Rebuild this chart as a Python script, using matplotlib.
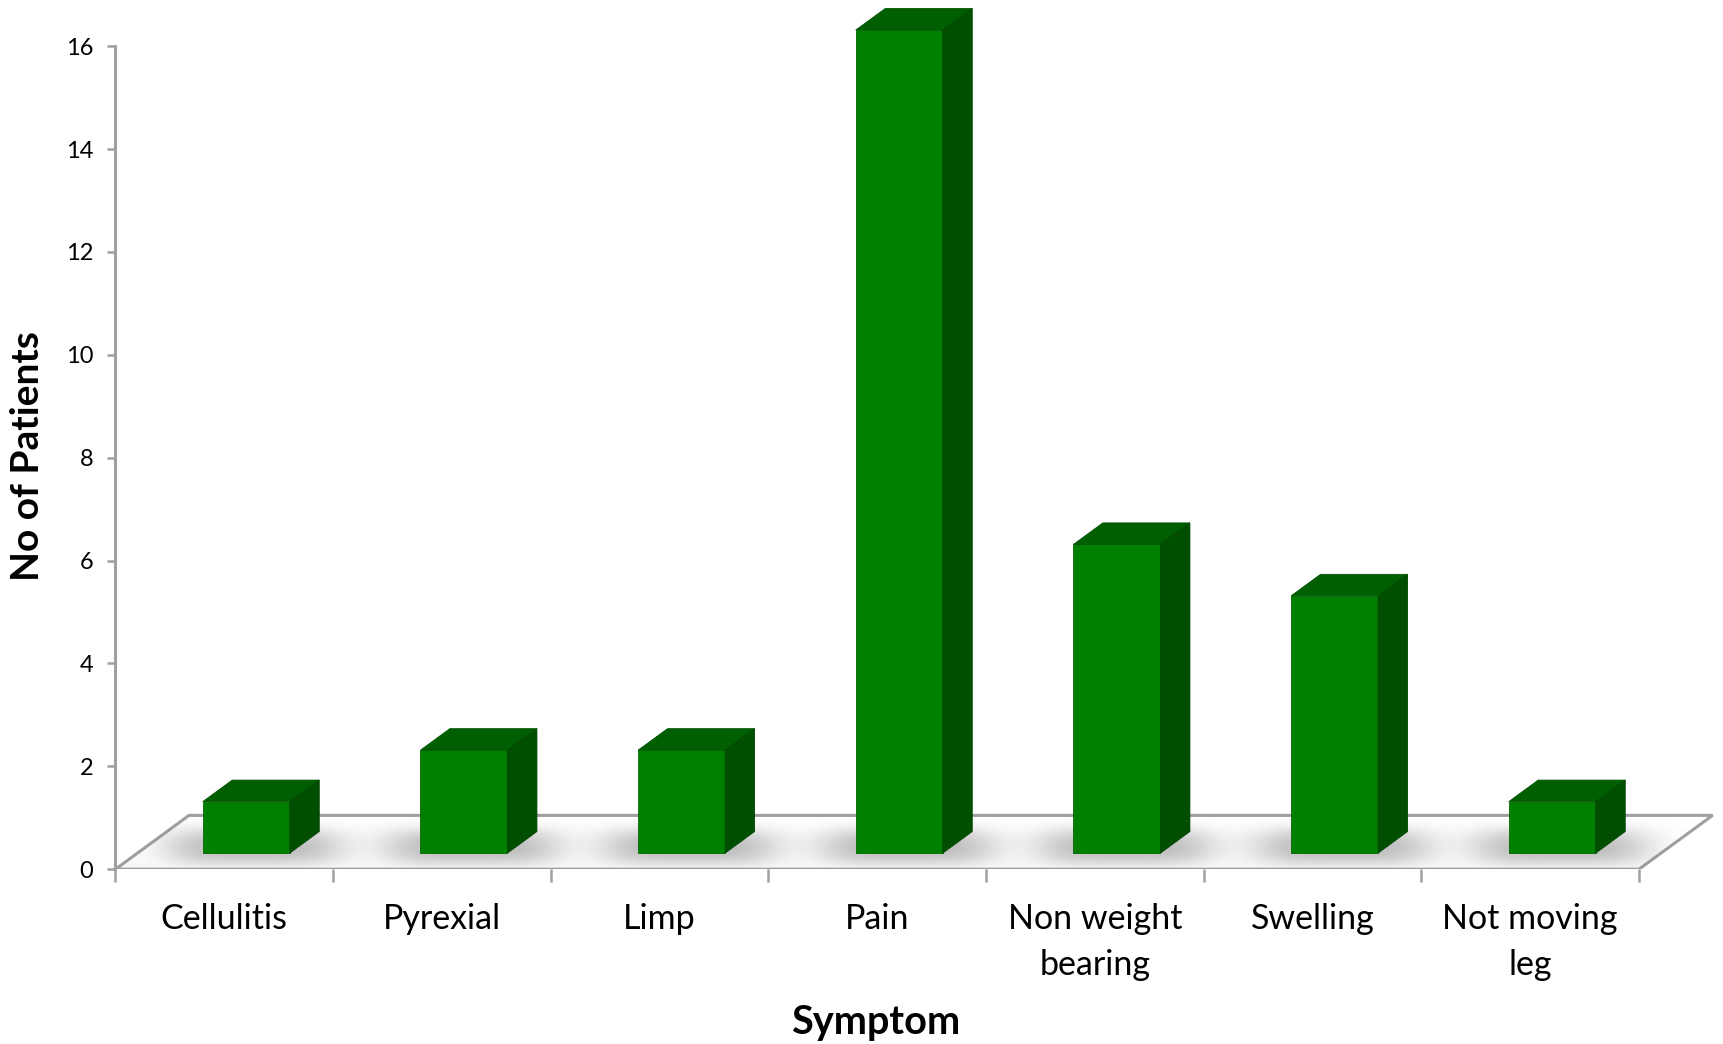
import numpy as np
import matplotlib
matplotlib.use('Agg')
import matplotlib.pyplot as plt
from matplotlib.patches import Polygon

# Datos del gráfico
symptoms = ['Cellulitis', 'Pyrexial', 'Limp', 'Pain', 'Non weight\nbearing', 'Swelling', 'Not moving\nleg']
patients = [1, 2, 2, 16, 6, 5, 1]
y_ticks = [0, 2, 4, 6, 8, 10, 12, 14, 16]

# Colores de las caras de las barras
front_color = '#007f00'
top_color = '#005f00'
side_color = '#004f00'
axis_gray = '#a0a0a0'

# Proyección oblicua: profundidad completa del suelo en unidades de datos
DX = 0.338
DY = 1.047
d0, d1 = 0.3, 0.7      # profundidad de las barras dentro de la categoría
w0, w1 = 0.3, 0.7      # anchura de la barra dentro de la categoría

plt.rcParams['font.family'] = ['Lato', 'DejaVu Sans']

fig = plt.figure(figsize=(17.23, 10.44), dpi=100)
ax = fig.add_axes([115.4 / 1723, 0.1674, 1602 / 1723, 0.8302])
ax.set_xlim(0, 7.36)
ax.set_ylim(0, 16.85)

n = len(symptoms)

# Suelo del gráfico
floor = Polygon([(0, 0), (n, 0), (n + DX, DY), (DX, DY)], closed=True,
                facecolor='white', edgecolor=axis_gray, lw=2.2, zorder=1,
                joinstyle='miter')
ax.add_patch(floor)

# Sombras difusas bajo las barras
nx, ny = 1600, 240
gx = np.linspace(0, n + DX, nx)
gy = np.linspace(0, DY, ny)
GX, GY = np.meshgrid(gx, gy)
mask = np.zeros((ny, nx))
for i in range(n):
    left = i + w0 + d0 * DX - 0.14
    right = i + w1 + d1 * DX + 0.08
    inside = (GX >= left) & (GX <= right) & (GY >= 0.12) & (GY <= d1 * DY)
    mask[inside] = 1.0


def blur(arr, sig_x, sig_y):
    kx = np.exp(-0.5 * (np.arange(-3 * sig_x, 3 * sig_x + 1) / sig_x) ** 2)
    ky = np.exp(-0.5 * (np.arange(-3 * sig_y, 3 * sig_y + 1) / sig_y) ** 2)
    kx /= kx.sum()
    ky /= ky.sum()
    out = np.array([np.convolve(r, kx, mode='same') for r in arr])
    out = np.array([np.convolve(c, ky, mode='same') for c in out.T]).T
    return out


shadow = blur(mask, 24, 34)
# degradado claro junto al borde delantero
shadow = np.maximum(shadow * 0.45, 0.09 * np.exp(-GY / 0.15))
rgba = np.zeros((ny, nx, 4))
rgba[..., :3] = 0.4
rgba[..., 3] = np.clip(shadow, 0, 1)
img = ax.imshow(rgba, extent=(0, n + DX, 0, DY), origin='lower',
                aspect='auto', interpolation='bilinear', zorder=2)
img.set_clip_path(floor)

# Barras en 3D (cara frontal, superior y lateral)
for i, v in enumerate(patients):
    x0 = i + w0 + d0 * DX
    x1 = i + w1 + d0 * DX
    yb = d0 * DY
    yt = yb + v
    ddx = (d1 - d0) * DX
    ddy = (d1 - d0) * DY
    front = Polygon([(x0, yb), (x1, yb), (x1, yt), (x0, yt)],
                    facecolor=front_color, edgecolor='#006a00', lw=0.6, zorder=4)
    top = Polygon([(x0, yt), (x1, yt), (x1 + ddx, yt + ddy), (x0 + ddx, yt + ddy)],
                  facecolor=top_color, edgecolor='#005500', lw=0.6, zorder=4)
    side = Polygon([(x1, yb), (x1 + ddx, yb + ddy), (x1 + ddx, yt + ddy), (x1, yt)],
                   facecolor=side_color, edgecolor='#004500', lw=0.6, zorder=4)
    for p in (front, top, side):
        p.set_clip_on(False)
        ax.add_patch(p)

# Ejes
for s in ['top', 'right', 'bottom']:
    ax.spines[s].set_visible(False)
ax.spines['left'].set_bounds(0, 16)
ax.spines['left'].set_color(axis_gray)
ax.spines['left'].set_linewidth(2.2)
ax.set_yticks(y_ticks)
ax.tick_params(axis='y', colors=axis_gray, length=6, width=1.8, labelsize=17,
               labelcolor='black', pad=10)

ax.set_xticks(np.arange(n) + 0.5)
ax.set_xticklabels(symptoms, fontsize=24.5, linespacing=1.55, va='top')
ax.set_xticks(np.arange(n + 1), minor=True)
ax.tick_params(axis='x', which='major', length=0, pad=24)
ax.tick_params(axis='x', which='minor', length=9, width=1.8, color=axis_gray)

ax.set_ylabel('No of Patients', fontsize=28, fontweight='bold', va='center')
ax.yaxis.set_label_coords(-0.0549, 0.4767)
ax.set_xlabel('Symptom', fontsize=28.5, fontweight='bold', va='center')
ax.xaxis.set_label_coords(0.4748, -0.1763)
ax.set_facecolor('none')

fig.savefig('out.png', dpi=100)
